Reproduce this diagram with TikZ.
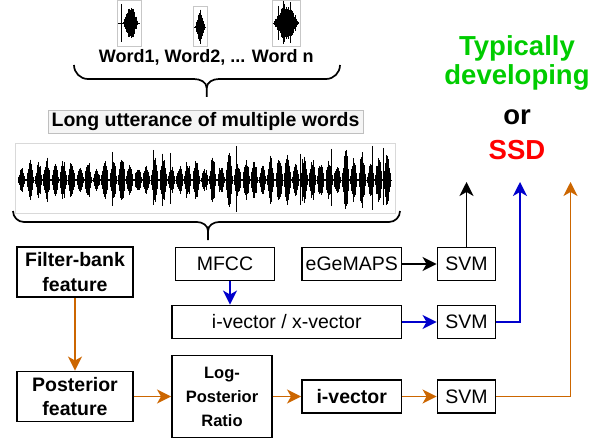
\documentclass[tikz,border=0pt]{standalone}
\usepackage{fontspec}
\setmainfont{Liberation Sans}
\usetikzlibrary{arrows.meta}
\definecolor{orr}{HTML}{CC6600}
\definecolor{bl}{HTML}{0000CC}
\definecolor{grn}{HTML}{00CC00}
\definecolor{rd}{HTML}{FF0000}
\newcommand\wblob[5]{%
  \foreach \k in {0,...,#2}{%
    \pgfmathsetmacro\xx{#1+#3*\k}%
    \pgfmathsetmacro\hh{#5*sin(180*\k/#2)*(0.55+0.45*rnd)+0.6}%
    \draw[wavel] (\xx,{#4-\hh}) -- (\xx,{#4+\hh});
  }%
}
\begin{document}
\begin{tikzpicture}[x=1pt,y=-1pt,
  box/.style={draw,line width=1.9pt,inner sep=0pt,align=center,font=\fontsize{19.5}{24}\selectfont},
  bbox/.style={box,font=\fontsize{19.5}{24.5}\selectfont\bfseries},
  arr/.style={line width=1.8pt,-{Stealth[length=14pt,width=14pt,inset=4pt]}},
  wavel/.style={line width=0.9pt,black},
  wbox/.style={draw=black!22,line width=0.6pt},
  brc/.style={line width=1.7pt},
  res/.style={inner sep=0pt,font=\fontsize{27.5}{32}\selectfont\bfseries}]
\useasboundingbox (0,0) rectangle (608,441);
\pgfmathsetseed{11}
% ---------- word waveforms
\draw[wbox] (117,0) rectangle (141,46);
\draw[wbox] (193,6) rectangle (207,46);
\draw[wbox] (272,0) rectangle (300,46);
\draw[wavel] (118,23) -- (140,23);
\draw[wavel] (121.5,4) -- (121.5,42);
\wblob{123.5}{24}{0.6}{23}{17}
\draw[wavel] (194,27) -- (206,27);
\foreach \k in {0,...,14}{
  \pgfmathsetmacro\xx{195.5+0.65*\k}
  \pgfmathsetmacro\hh{18*(1-abs(\k-7)/7.5)*(0.85+0.15*rnd)}
  \draw[wavel] (\xx,{27-\hh}) -- (\xx,{27+\hh});
}
\draw[wavel] (273,23) -- (299,23);
\wblob{274}{40}{0.6}{23}{20}
\draw[wavel] (283,1) -- (283,44);
\draw[wavel] (290,2) -- (290,43);
\draw[wavel] (278,6) -- (278,40);
% ---------- label
\node[inner sep=0pt,anchor=base] (wl) at (206.3,62.5) {\fontsize{18}{22}\selectfont\bfseries Word1, Word2, ... Word n};
% brace 1
\draw[brc] (74,65) to[out=-90,in=180] (88,79) -- (194,79) to[out=0,in=90] (206.7,88) -- (206.7,97);
\draw[brc] (206.7,88) to[out=90,in=180] (219,79) -- (326,79) to[out=0,in=-90] (340,65);
% ---------- long utterance
\node[draw=black!25,fill=black!4,line width=0.6pt,inner sep=0pt,minimum width=315pt,minimum height=23pt,
  font=\fontsize{19.5}{23}\selectfont\bfseries] (lu) at (205.5,121.5) {Long utterance of multiple words};
\draw[draw=black!15,line width=0.6pt] (15,143) rectangle (395,213);
\draw[wavel] (18,180) -- (392,180);
\foreach \i in {0,...,44}{
  \pgfmathsetmacro\cx{22+\i*8.3}
  \pgfmathsetmacro\amp{(11+16*rnd)*(0.85+0.4*\i/44)}
  \wblob{\cx-3.6}{14}{0.5}{180}{\amp}
}
\foreach \xs/\ya/\yb in {236/146/212, 112/152/206, 153/150/205, 331/149/206, 346/150/205, 372/146/210, 383/148/205, 300/154/205, 170/153/204}{
  \draw[line width=0.9pt] (\xs,\ya) -- (\xs,\yb);
}
% brace 2
\draw[brc] (13,211) to[out=-90,in=180] (24,222) -- (197,222) to[out=0,in=90] (208,231) -- (208,240);
\draw[brc] (208,231) to[out=90,in=180] (219,222) -- (389,222) to[out=0,in=-90] (400,211);
% ---------- boxes
\node[bbox,minimum width=116pt,minimum height=50pt] (fb) at (75,272) {Filter-bank\\feature};
\node[bbox,minimum width=116pt,minimum height=50pt] (post) at (75,396.5) {Posterior\\feature};
\node[box,minimum width=100pt,minimum height=82pt,font=\fontsize{16.5}{24}\selectfont\bfseries] (lpr) at (222,396.5) {Log-\\Posterior\\Ratio};
\node[box,minimum width=99pt,minimum height=33pt] (mfcc) at (225,264) {MFCC};
\node[box,minimum width=229.5pt,minimum height=33pt] (ivx) at (286.75,322) {i-vector / x-vector};
\node[box,minimum width=99.5pt,minimum height=33pt] (ege) at (351.75,264) {eGeMAPS};
\node[bbox,minimum width=99.5pt,minimum height=33pt] (ivec) at (351.75,396.5) {i-vector};
\node[box,minimum width=58pt,minimum height=33pt] (svm1) at (466.5,264) {SVM};
\node[box,minimum width=58pt,minimum height=33pt] (svm2) at (466.5,322) {SVM};
\node[box,minimum width=58pt,minimum height=33pt] (svm3) at (466.5,396.5) {SVM};
% ---------- result text
\node[res,text=grn,anchor=base] (t1) at (517,56) {Typically};
\node[res,text=grn,anchor=base] (t2) at (517,85) {developing};
\node[res,anchor=base] (t3) at (517,125) {or};
\node[res,text=rd,anchor=base] (t4) at (517,159.5) {SSD};
\coordinate (o1) at (466.5,182);
\coordinate (o2) at (520,182);
\coordinate (o3) at (570.5,182);
% ---------- connectors
\draw[arr,orr] (fb.south) -- (post.north);
\draw[arr,orr] (post.east) -- (lpr.west);
\draw[arr,orr] (lpr.east) -- (ivec.west);
\draw[arr,orr] (ivec.east) -- (svm3.west);
\draw[arr,orr] (svm3.east) -| (o3);
\draw[arr,bl] ([xshift=5pt]mfcc.south) -- ([xshift=5pt]mfcc.south |- ivx.north);
\draw[arr,bl] (ivx.east) -- (svm2.west);
\draw[arr,bl] (svm2.east) -| (o2);
\draw[arr,black] (ege.east) -- (svm1.west);
\draw[arr,black] (svm1.north) -- (o1);
\end{tikzpicture}
\end{document}
